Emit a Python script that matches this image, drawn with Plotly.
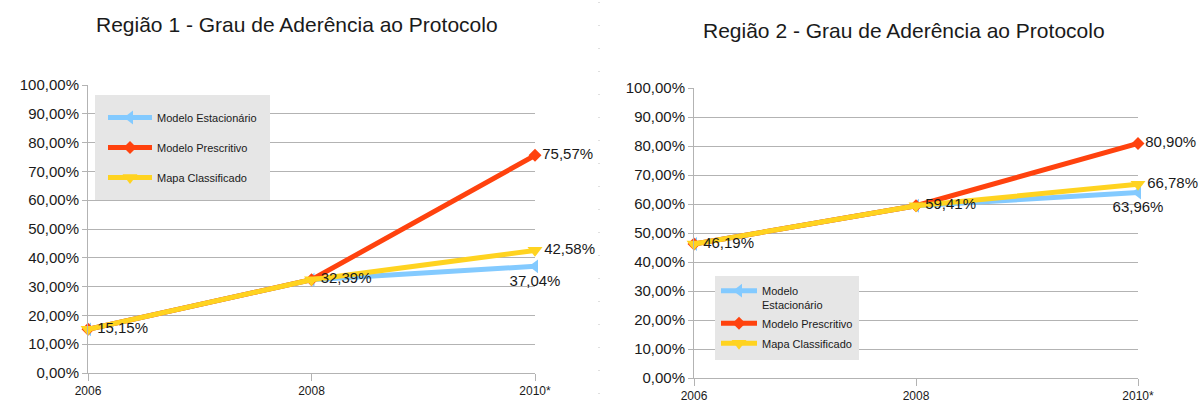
import plotly.graph_objects as go

years = ["2006", "2008", "2010*"]
series_names = ["Modelo Estacionário", "Modelo Prescritivo", "Mapa Classificado"]
r1_estacionario = [15.15, 32.39, 37.04]
r1_prescritivo = [15.15, 32.39, 75.57]
r1_mapa = [15.15, 32.39, 42.58]
r2_estacionario = [46.19, 59.41, 63.96]
r2_prescritivo = [46.19, 59.41, 80.90]
r2_mapa = [46.19, 59.41, 66.78]
y_ticks = list(range(0, 101, 10))

colors = ["#83CAFF", "#FF420E", "#FFD320"]
symbols = ["triangle-left", "diamond", "triangle-down"]
sizes = [12, 10, 13]
FONT = "Liberation Sans, Arial"
TXT = "#1a1a1a"

def fmt(v):
    return f"{v:.2f}%".replace(".", ",")

fig = go.Figure()

def add_region(vals_list, xa, ya, legend, names, label_spec):
    for i, (vals, name) in enumerate(zip(vals_list, names)):
        texts, positions = [], []
        for j, v in enumerate(vals):
            spec = label_spec.get((i, j))
            texts.append(fmt(v) if spec else "")
            positions.append(spec or "middle right")
        fig.add_trace(go.Scatter(
            x=years, y=vals, name=name, mode="lines+markers+text",
            line=dict(color=colors[i], width=5),
            marker=dict(symbol=symbols[i], size=sizes[i], color=colors[i]),
            text=texts, textposition=positions,
            textfont=dict(family=FONT, size=15, color=TXT),
            cliponaxis=False, xaxis=xa, yaxis=ya, legend=legend,
            legendgroup=f"{legend}{i}",
        ))

spec = {(2, 0): "middle right", (2, 1): "middle right",
        (1, 2): "middle right", (2, 2): "middle right", (0, 2): "bottom center"}
add_region([r1_estacionario, r1_prescritivo, r1_mapa], "x", "y", "legend",
           series_names, spec)
add_region([r2_estacionario, r2_prescritivo, r2_mapa], "x2", "y2", "legend2",
           ["Modelo<br>Estacionário", "Modelo Prescritivo", "Mapa Classificado"], spec)

grid = "#b3b3b3"
xcommon = dict(type="category", range=[0, 2], showgrid=False, showline=True,
               linecolor=grid, linewidth=1, ticks="outside", ticklen=7, tickcolor=grid,
               tickfont=dict(family=FONT, size=12, color=TXT),
               zeroline=False, automargin=False)
ycommon = dict(range=[0, 100], tickmode="array", tickvals=y_ticks,
               ticktext=[fmt(v) for v in y_ticks],
               showgrid=True, gridcolor=grid, gridwidth=1,
               showline=True, linecolor=grid, linewidth=1, ticks="outside", ticklen=5,
               tickcolor=grid, zeroline=False, automargin=False,
               tickfont=dict(family=FONT, size=15, color=TXT))

fig.update_layout(
    width=1202, height=406, margin=dict(l=0, r=0, t=0, b=0, autoexpand=False),
    paper_bgcolor="white", plot_bgcolor="white",
    xaxis=dict(domain=[88 / 1202, 535 / 1202], anchor="y", **xcommon),
    yaxis=dict(domain=[1 - 373 / 406, 1 - 85 / 406], anchor="x", **ycommon),
    xaxis2=dict(domain=[694 / 1202, 1138 / 1202], anchor="y2", **xcommon),
    yaxis2=dict(domain=[1 - 378 / 406, 1 - 88 / 406], anchor="x2", **ycommon),
    legend=dict(x=95 / 1202, y=1 - 95 / 406, xanchor="left", yanchor="top",
                bgcolor="#e6e6e6", bordercolor="#e6e6e6", borderwidth=8,
                tracegroupgap=11, itemwidth=44,
                font=dict(family=FONT, size=11, color=TXT)),
    legend2=dict(x=715 / 1202, y=1 - 276 / 406, xanchor="left", yanchor="top",
                 bgcolor="#e6e6e6", bordercolor="#e6e6e6", borderwidth=1,
                 tracegroupgap=1, itemwidth=36, valign="top",
                 font=dict(family=FONT, size=11, color=TXT)),
    annotations=[
        dict(text="Região 1 - Grau de Aderência ao Protocolo", x=297 / 1202, y=1 - 24 / 406,
             xref="paper", yref="paper", showarrow=False, xanchor="center", yanchor="middle",
             font=dict(family=FONT, size=21, color=TXT)),
        dict(text="Região 2 - Grau de Aderência ao Protocolo", x=904 / 1202, y=1 - 30 / 406,
             xref="paper", yref="paper", showarrow=False, xanchor="center", yanchor="middle",
             font=dict(family=FONT, size=21, color=TXT)),
    ],
    shapes=[dict(type="line", xref="paper", yref="paper", x0=599 / 1202, x1=599 / 1202,
                 y0=1 - 2 / 406, y1=0, line=dict(color="#c0c0c0", width=1, dash="1px,22px"))],
)

fig.write_html("out.html", config={"displayModeBar": False},
               post_script="document.body.style.margin='0';document.body.style.overflow='hidden';")
